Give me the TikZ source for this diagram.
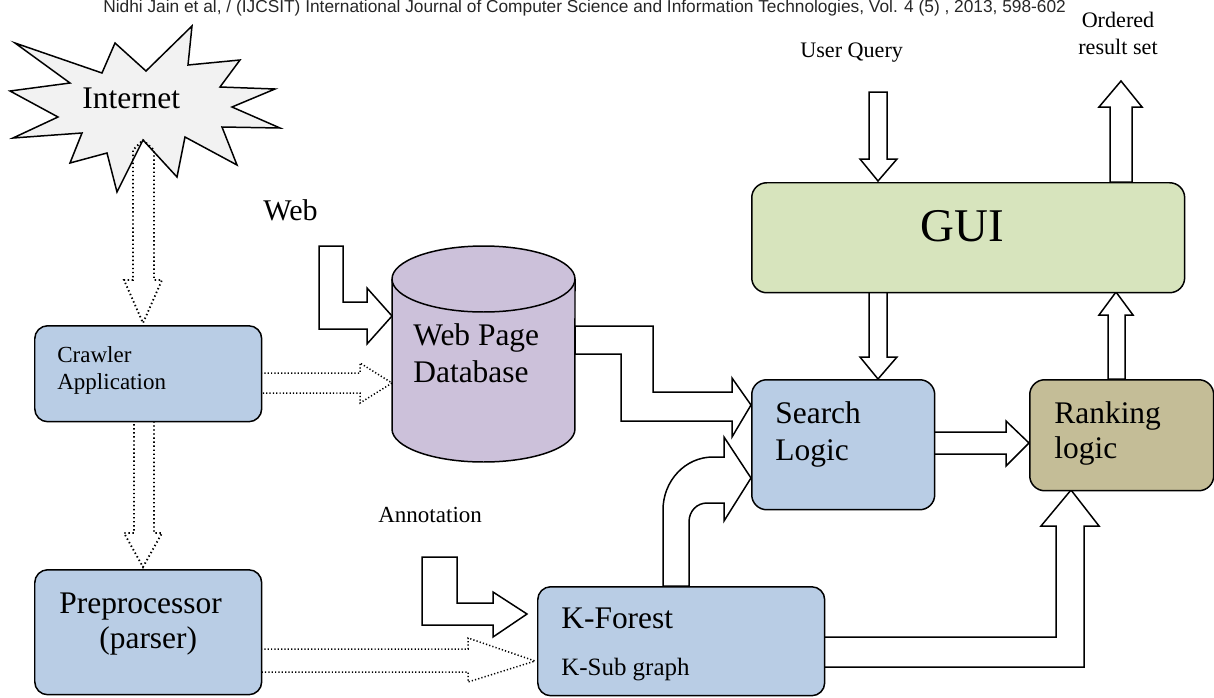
\documentclass[tikz,border=0pt]{standalone}
\usepackage{fontspec}
\setmainfont{Liberation Serif}
\newfontfamily\hdrfont{Liberation Sans}
\definecolor{boxblue}{HTML}{B9CDE5}
\definecolor{guigreen}{HTML}{D7E4BD}
\definecolor{dbpurple}{HTML}{CCC1DA}
\definecolor{rankkhaki}{HTML}{C4BD97}
\definecolor{stargray}{HTML}{F2F2F2}
\tikzset{
  block/.style={draw=black, fill=white, line width=0.85pt, line join=miter},
  dotblock/.style={draw=black, line width=1.05pt, dash pattern=on 0.8pt off 1.5pt},
  thindot/.style={draw=black, line width=0.85pt, dash pattern=on 0.7pt off 1.2pt},
  box/.style={draw=black, line width=0.85pt, rounded corners=0.26cm, inner sep=0pt, anchor=north west},
  lbl/.style={anchor=base west, inner sep=0pt},
  big/.style={font=\fontsize{17.9}{20}\selectfont},
  small/.style={font=\fontsize{12.6}{15}\selectfont},
}
\begin{document}
\begin{tikzpicture}[x=0.02cm,y=-0.02cm]
\useasboundingbox (0,0) rectangle (1214,697);

% header
\node[lbl, text=black!85, font=\hdrfont\fontsize{9.85}{11}\selectfont] (hdr) at (103,12) {Nidhi Jain et al, / (IJCSIT) International Journal of Computer Science and Information Technologies, Vol. 4 (5) , 2013, 598-602};

% Internet star
\draw[line width=0.85pt, fill=stargray, line join=miter]
 (15,43)--(102,73)--(115,43)--(146,71)--(192,26)--(188,65)--(240,60)--(220,87)--(275,89)--(232,107)--(280,128)--(222,127)--(237,165)--(185,137)--(177,177)--(143,140)--(117,192)--(107,153)--(70,163)--(82,133)--(13,138)--(58,117)--(10,91)--(70,83)--cycle;
\node[lbl, big] (internet) at (82,108) {Internet};
\coordinate (star) at (143,140);

% dotted arrows
\draw[dotblock] (star)--(154,150)--(154,280)--(162,280)--(143,323)--(124,280)--(133,280)--(133,150)--cycle;
\draw[dotblock] (134,421)--(154,421)--(154,533)--(162,533)--(143,567)--(124,533)--(134,533)--cycle;
\draw[thindot] (261,373)--(360,373)--(360,363)--(392,383)--(360,403)--(360,393)--(261,393)--cycle;
\draw[thindot] (261,649)--(468,649)--(468,638)--(535,661)--(468,682)--(468,672)--(261,672)--cycle;

% block arrows
\draw[block] (319,246)--(343,246)--(343,302)--(367,302)--(367,288)--(392,316)--(367,344)--(367,329)--(319,329)--cycle;
\draw[block] (422,557)--(457,557)--(457,603)--(493,603)--(493,592)--(527,614)--(493,637)--(493,625)--(422,625)--cycle;
\draw[block] (575,326)--(653,326)--(653,392)--(732,392)--(732,378)--(751,405)--(732,437)--(732,421)--(621,421)--(621,354)--(575,354)--cycle;
\draw[block] (663,586)--(663,510) .. controls (663,481) and (685,457) .. (713,457)--(724,457)--(724,437)--(751,478)--(724,521)--(724,503)--(707,503) .. controls (697,503) and (689,511) .. (689,522)--(689,586)--cycle;
\draw[block] (824,637)--(1056,637)--(1056,526)--(1041,526)--(1071,490)--(1099,526)--(1084,526)--(1084,667)--(824,667)--cycle;
\draw[block] (869,92)--(887,92)--(887,159)--(897,159)--(878,181)--(860,159)--(869,159)--cycle;
\draw[block] (1110,182)--(1110,107)--(1099,107)--(1121,81)--(1142,107)--(1132,107)--(1132,182)--cycle;
\draw[block] (869,292)--(887,292)--(887,357)--(897,357)--(878,379)--(860,357)--(869,357)--cycle;
\draw[block] (1108,379)--(1108,315)--(1099,315)--(1116,292)--(1133,315)--(1125,315)--(1125,379)--cycle;
\draw[block] (934,432)--(1006,432)--(1006,421)--(1029,443)--(1006,466)--(1006,454)--(934,454)--cycle;

% cylinder database
\draw[line width=0.85pt, fill=dbpurple] (392,279)--(392,429) arc[start angle=180, end angle=360, x radius=1.83cm, y radius=0.66cm]--(575,279) arc[start angle=0, end angle=180, x radius=1.83cm, y radius=0.66cm]--cycle;
\draw[line width=0.85pt] (392,279) arc[start angle=180, end angle=360, x radius=1.83cm, y radius=0.66cm];
\coordinate (db) at (483,350);
\node[lbl, big] (dbl1) at (413,345) {Web Page};
\node[lbl, big] (dbl2) at (413,382) {Database};

% boxes
\node[box, fill=boxblue, minimum width=4.54cm, minimum height=1.92cm] (crawler) at (34,325) {};
\node[box, fill=boxblue, minimum width=4.54cm, minimum height=2.5cm] (preproc) at (34,569) {};
\node[box, fill=guigreen, minimum width=8.66cm, minimum height=2.2cm, rounded corners=0.3cm] (gui) at (751,182) {};
\node[box, fill=boxblue, minimum width=3.66cm, minimum height=2.6cm, rounded corners=0.3cm] (search) at (751,379) {};
\node[box, fill=rankkhaki, minimum width=3.68cm, minimum height=2.22cm, rounded corners=0.3cm] (ranking) at (1029,379) {};
\node[box, fill=boxblue, minimum width=5.74cm, minimum height=2.18cm] (kforest) at (537,586) {};

% labels
\node[lbl, font=\fontsize{13.1}{15}\selectfont] at (57,362) {Crawler};
\node[lbl, font=\fontsize{13.1}{15}\selectfont] at (57,389) {Application};
\node[lbl, big] at (59,613) {Preprocessor};
\node[lbl, big] at (99,648) {(parser)};
\node[lbl, font=\fontsize{26.7}{30}\selectfont] at (920,241) {GUI};
\node[lbl, big] at (775,423) {Search};
\node[lbl, big] at (775,460) {Logic};
\node[lbl, big] at (1054,423) {Ranking};
\node[lbl, big] at (1054,458) {logic};
\node[lbl, big] at (561,628) {K-Forest};
\node[lbl, font=\fontsize{14.2}{16}\selectfont] at (561,675) {K-Sub graph};
\node[lbl, font=\fontsize{17.1}{20}\selectfont] (web) at (263,220) {Web};
\node[lbl, font=\fontsize{13.1}{15}\selectfont] (annot) at (378,522) {Annotation};
\node[lbl, small] (uq) at (800,57) {User Query};
\node[anchor=base, inner sep=0pt, small] (ord) at (1118,27) {Ordered};
\node[anchor=base, inner sep=0pt, small] (rs) at (1118,54) {result set};
\end{tikzpicture}
\end{document}
